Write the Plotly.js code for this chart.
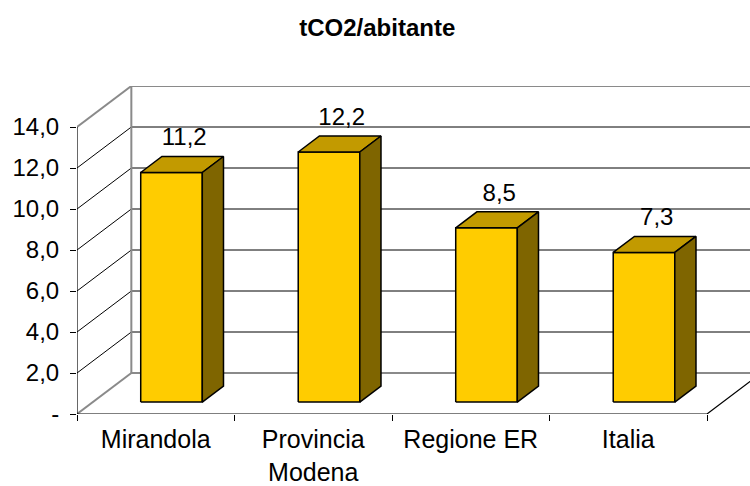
<!DOCTYPE html>
<html>
<head>
<meta charset="utf-8">
<script src="https://cdn.plot.ly/plotly-3.0.1.min.js"></script>
<style>html,body{margin:0;padding:0;background:#fff;}#chart{width:750px;height:486px;}</style>
</head>
<body>
<div id="chart"></div>
<script>
// ---- data ----
const categories = ['Mirandola', 'Provincia<br>Modena', 'Regione ER', 'Italia'];
const values = [11.2, 12.2, 8.5, 7.3];
const valueLabels = ['11,2', '12,2', '8,5', '7,3'];
const yTickVals = [0, 2, 4, 6, 8, 10, 12, 14];
const yTickText = ['-', '2,0', '4,0', '6,0', '8,0', '10,0', '12,0', '14,0'];
const titleText = 'tCO2/abitante';

// ---- 3D projection settings (in axis units) ----
const DX = 0.345, DY = 2.0;     // depth offset of the back wall
const F0 = 0.29, T = 0.39;      // bar position and thickness as a fraction of depth
const W = 0.391;                // bar front width
const FONT = 'Liberation Sans, Arial, sans-serif';

const n = categories.length;
const xs = categories.map((_, i) => i);
const xMin = -0.5, xMax = n - 0.5;
const yMax = yTickVals[yTickVals.length - 1];
const xRange = [xMin, xMin + 673 / 157.5];

// back-wall gridlines and left-wall diagonals
const gx = [], gy = [];
yTickVals.forEach(v => {
  if (v > 0 && v < yMax) {
    gx.push(xMin + DX, xMax + 2 + DX, null); gy.push(v + DY, v + DY, null);
    gx.push(xMin, xMin + DX, null); gy.push(v, v + DY, null);
  }
});
// grey wall frame
const fx = [xMin + DX, xMax + 2 + DX, null, xMin + DX, xMin + DX, xMax + 2 + DX, null, xMin, xMin + DX, null, xMin, xMin + DX];
const fy = [yMax + DY, yMax + DY, null, yMax + DY, DY, DY, null, yMax, yMax + DY, null, 0, DY];
// black front axis lines
const ax = [xMin, xMin, null, xMin, xMax, xMax + DX];
const ay = [yMax, 0, null, 0, 0, DY];

// bar faces
const frontX = [], frontY = [], topX = [], topY = [], sideX = [], sideY = [];
const lblX = [], lblY = [];
const base = F0 * DY, tdx = T * DX, tdy = T * DY;
values.forEach((v, i) => {
  const xl = i - W / 2 + F0 * DX, xr = i + W / 2 + F0 * DX, top = base + v;
  frontX.push(xl, xr, xr, xl, xl, null); frontY.push(base, base, top, top, base, null);
  topX.push(xl, xr, xr + tdx, xl + tdx, xl, null); topY.push(top, top, top + tdy, top + tdy, top, null);
  sideX.push(xr, xr + tdx, xr + tdx, xr, xr, null); sideY.push(base, base + tdy, top + tdy, top, base, null);
  lblX.push((xl + xr) / 2 + tdx * 0.6); lblY.push(top + tdy + 0.25);
});

const poly = (x, y, fill) => ({
  type: 'scatter', mode: 'lines', x, y, fill: 'toself', fillcolor: fill,
  line: {color: '#000', width: 1.5}, hoverinfo: 'skip', showlegend: false
});

const traces = [
  {type: 'scatter', mode: 'lines', x: gx, y: gy, line: {color: '#000', width: 1}, hoverinfo: 'skip', showlegend: false},
  {type: 'scatter', mode: 'lines', x: fx, y: fy, line: {color: '#8a8a8a', width: 2}, hoverinfo: 'skip', showlegend: false},
  {type: 'scatter', mode: 'lines', x: ax, y: ay, line: {color: '#000', width: 1.2}, hoverinfo: 'skip', showlegend: false, xaxis: 'x2'},
  poly(frontX, frontY, '#FFCC00'),
  poly(topX, topY, '#C29A00'),
  poly(sideX, sideY, '#7F6500'),
  {type: 'scatter', mode: 'text', x: lblX, y: lblY, text: valueLabels, textposition: 'top center',
   textfont: {family: FONT, size: 24, color: '#000'}, cliponaxis: false, hoverinfo: 'skip', showlegend: false}
];

const layout = {
  width: 750, height: 486, autosize: false,
  margin: {l: 77, r: 0, t: 86, b: 72, pad: 0},
  paper_bgcolor: '#fff', plot_bgcolor: '#fff',
  showlegend: false,
  title: {text: '<b>' + titleText + '</b>', font: {family: FONT, size: 24, color: '#000'},
          x: 0.503, xref: 'container', xanchor: 'center', y: 1 - 28 / 486, yref: 'container', yanchor: 'middle'},
  xaxis: {range: xRange, tickvals: xs, ticktext: categories, ticks: '', showgrid: false, zeroline: false,
          showline: false, tickfont: {family: FONT, size: 25, color: '#000'}, ticklabelstandoff: 8, fixedrange: true},
  xaxis2: {range: xRange, overlaying: 'x', anchor: 'y', side: 'bottom',
           tickvals: xs.map(i => i - 0.5).concat([xMax]), showticklabels: false, ticks: 'outside', ticklen: 6,
           tickcolor: '#000', tickwidth: 1, showgrid: false, zeroline: false, showline: false, fixedrange: true},
  yaxis: {range: [0, yMax + DY], tickvals: yTickVals, ticktext: yTickText, ticks: 'outside', ticklen: 6,
          tickcolor: '#000', tickwidth: 1, showgrid: false, zeroline: false, showline: false,
          tickfont: {family: FONT, size: 24, color: '#000'}, ticklabelstandoff: 6, fixedrange: true}
};

Plotly.newPlot('chart', traces, layout, {staticPlot: true, displayModeBar: false});
</script>
</body>
</html>
